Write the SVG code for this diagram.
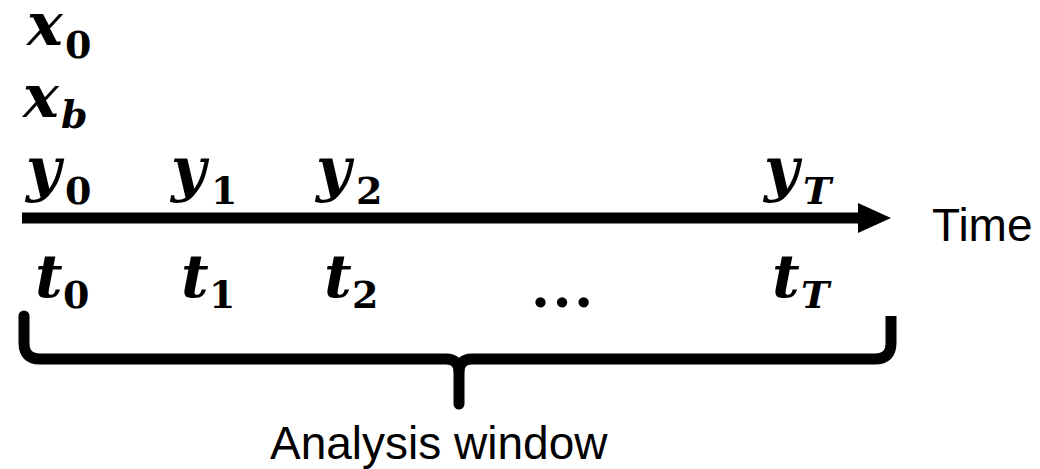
<svg xmlns="http://www.w3.org/2000/svg" width="1040" height="469" viewBox="0 0 1040 469">
<style>
.m{font-family:"DejaVu Serif","Liberation Serif",serif;font-weight:bold;font-style:italic;font-size:60px;fill:#000}
.s{font-family:"DejaVu Serif","Liberation Serif",serif;font-weight:bold;font-size:38px;fill:#000}
.si{font-family:"DejaVu Serif","Liberation Serif",serif;font-weight:bold;font-style:italic;font-size:38px;fill:#000}
.dots{font-family:"Liberation Serif",serif;font-weight:bold;font-size:64px;fill:#000}
.lbl{font-family:"Liberation Sans",Arial,sans-serif;font-size:46px;fill:#000}
</style>
<g id="x0"><text class="m" x="27" y="45">x</text><text class="s" x="65" y="58">0</text></g>
<g id="xb"><text class="m" x="23" y="117">x</text><text class="si" x="61" y="128">b</text></g>
<g id="y0"><text class="m" x="26" y="190">y</text><text class="s" x="65" y="204">0</text></g>
<g id="y1"><text class="m" x="171" y="190">y</text><text class="s" x="211" y="204">1</text></g>
<g id="y2"><text class="m" x="316" y="190">y</text><text class="s" x="356" y="204">2</text></g>
<g id="yT"><text class="m" x="764" y="190">y</text><text class="si" x="803" y="204">T</text></g>
<g id="connectors">
<line x1="22" y1="218" x2="862" y2="218" stroke="#000" stroke-width="11"/>
<polygon points="858,203 891,218 858,233" fill="#000"/>
</g>
<g id="time"><text class="lbl" x="932" y="241">Time</text></g>
<g id="t0"><text class="m" x="35" y="297">t</text><text class="s" x="63" y="308">0</text></g>
<g id="t1"><text class="m" x="181" y="297">t</text><text class="s" x="209" y="308">1</text></g>
<g id="t2"><text class="m" x="324" y="297">t</text><text class="s" x="352" y="308">2</text></g>
<g id="dots"><text class="dots" x="530" y="307">…</text></g>
<g id="tT"><text class="m" x="772" y="297">t</text><text class="si" x="801" y="308">T</text></g>
<g id="brace">
<path d="M24,316 L24,343 Q24,359 40,359 L446,359 Q459,359 459,372 L459,404" fill="none" stroke="#000" stroke-width="11" stroke-linecap="round"/>
<path d="M891,316 L891,343 Q891,359 875,359 L472,359 Q459,359 459,372" fill="none" stroke="#000" stroke-width="11"/>
</g>
<g id="analysis"><text class="lbl" x="270" y="459">Analysis window</text></g>
</svg>
